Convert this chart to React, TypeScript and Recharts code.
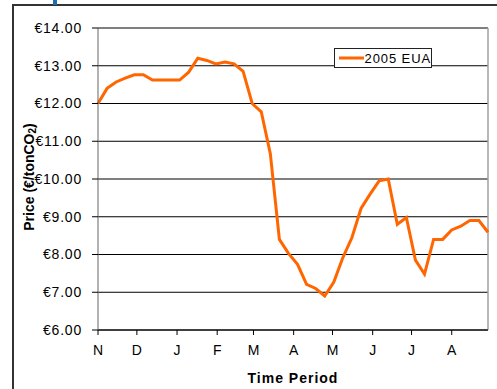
import React from "react";
import {
  LineChart,
  Line,
  XAxis,
  YAxis,
  CartesianGrid,
  ReferenceLine,
} from "recharts";

// month ticks (days since 1 Nov)
const MONTH_LABELS = ["N", "D", "J", "F", "M", "A", "M", "J", "J", "A"];
const MONTH_START_DAYS = [0, 30, 61, 92, 120, 151, 181, 212, 242, 273];

// weekly 2005 EUA prices, €/tonCO2
const EUA_PRICES = [
  12.0, 12.4, 12.57, 12.67, 12.76, 12.76, 12.62, 12.62, 12.62, 12.62,
  12.83, 13.2, 13.14, 13.05, 13.1, 13.05, 12.85, 12.0, 11.78, 10.67,
  8.4, 8.03, 7.74, 7.21, 7.1, 6.9, 7.27, 7.92, 8.45, 9.22,
  9.6, 9.95, 10.0, 8.8, 8.98, 7.85, 7.48, 8.4, 8.4, 8.65,
  8.75, 8.9, 8.9, 8.59,
];

const PRICE_TICKS = [6, 7, 8, 9, 10, 11, 12, 13, 14];
const SERIES_NAME = "2005 EUA";

const ORANGE = "#ff6600";
const FONT = "'Liberation Sans', Arial, sans-serif";

const data = EUA_PRICES.map((price, i) => ({ day: i * 7, price }));

function LegendBox() {
  return (
    <div
      style={{
        position: "absolute",
        left: 334,
        top: 48,
        width: 98,
        height: 20,
        border: "1px solid #222",
        boxSizing: "border-box",
        display: "flex",
        alignItems: "center",
        background: "#fff",
        fontFamily: FONT,
        fontSize: 13,
        color: "#000",
        whiteSpace: "nowrap",
      }}
    >
      <svg width={29} height={10} style={{ marginLeft: 3 }}>
        <line x1={1} y1={5} x2={27} y2={5} stroke={ORANGE} strokeWidth={3} />
      </svg>
      <span style={{ marginLeft: 1, letterSpacing: 0.9 }}>{SERIES_NAME}</span>
    </div>
  );
}

function PriceLabel({ viewBox }: any) {
  const cy = viewBox.y + viewBox.height / 2 - 2;
  const cx = 29;
  return (
    <text
      x={cx}
      y={cy}
      transform={`rotate(-90 ${cx} ${cy})`}
      textAnchor="middle"
      dominantBaseline="central"
      fontFamily={FONT}
      fontSize={14}
      fontWeight="bold"
      fill="#000"
    >
      Price (€/tonCO
      <tspan fontSize={10} dy={3}>
        2
      </tspan>
      <tspan dy={-3}>)</tspan>
    </text>
  );
}

export default function App() {
  return (
    <div
      style={{
        position: "absolute",
        left: 0,
        top: 0,
        width: 497,
        height: 389,
        background: "#fff",
        overflow: "hidden",
      }}
    >
      <div
        style={{
          position: "absolute",
          left: 12,
          top: 4,
          right: -10,
          bottom: -10,
          borderTop: "2px solid #333",
          borderLeft: "2px solid #333",
        }}
      />
      <div
        style={{
          position: "absolute",
          left: 53,
          top: 0,
          width: 4,
          height: 5,
          background: "#1f6fb0",
        }}
      />
      <div style={{ position: "absolute", left: 0, top: 0 }}>
        <LineChart
          width={497}
          height={389}
          data={data}
          margin={{ top: 28, right: 9, bottom: 0, left: 0 }}
        >
          <CartesianGrid horizontal vertical={false} stroke="#000" strokeWidth={1} />
          <ReferenceLine x={301} stroke="#a0a0a0" strokeWidth={1.5} />
          <XAxis
            dataKey="day"
            type="number"
            domain={[0, 301]}
            ticks={MONTH_START_DAYS}
            interval={0}
            height={59}
            tickSize={5}
            tickMargin={10}
            tickFormatter={(v: number) => MONTH_LABELS[MONTH_START_DAYS.indexOf(v)]}
            tick={{ fontFamily: FONT, fontSize: 14, fill: "#000" }}
            axisLine={{ stroke: "#000" }}
            tickLine={{ stroke: "#000" }}
            label={{
              value: "Time Period",
              position: "insideBottom",
              offset: 6,
              style: {
                fontFamily: FONT,
                fontSize: 14,
                fontWeight: "bold",
                letterSpacing: 1,
                fill: "#000",
              },
            }}
          />
          <YAxis
            type="number"
            domain={[6, 14]}
            ticks={PRICE_TICKS}
            interval={0}
            width={98}
            tickSize={6}
            tickMargin={10}
            tickFormatter={(v: number) => `€${v.toFixed(2)}`}
            tick={{ fontFamily: FONT, fontSize: 14, fill: "#000", letterSpacing: 0.8 }}
            axisLine={{ stroke: "#666" }}
            tickLine={{ stroke: "#000" }}
            label={<PriceLabel />}
          />
          <Line
            type="linear"
            dataKey="price"
            name={SERIES_NAME}
            stroke={ORANGE}
            strokeWidth={3}
            dot={false}
            isAnimationActive={false}
          />
        </LineChart>
      </div>
      <LegendBox />
    </div>
  );
}
